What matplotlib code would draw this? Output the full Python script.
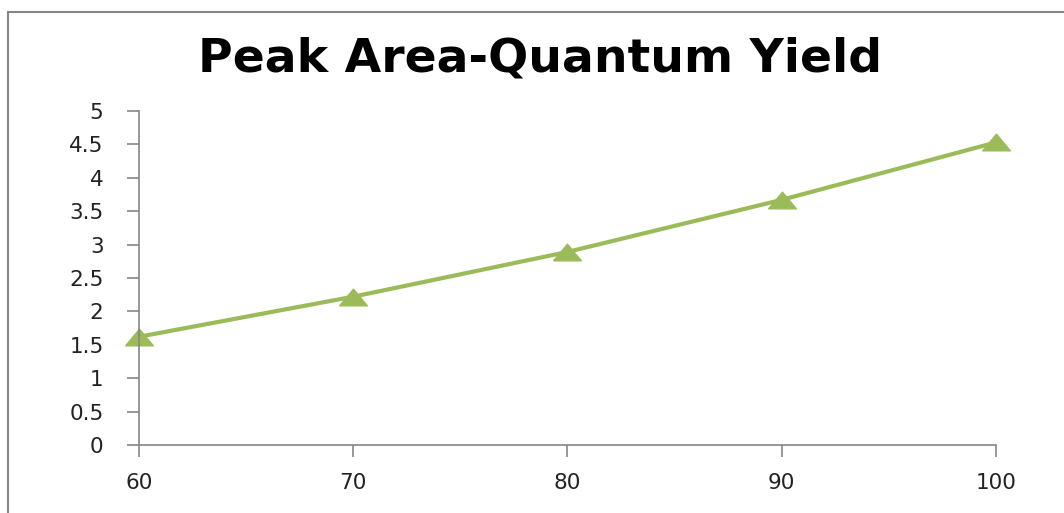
import matplotlib.pyplot as plt
from matplotlib.patches import Rectangle

x = [60, 70, 80, 90, 100]
y = [1.62, 2.22, 2.89, 3.67, 4.53]
xticks = [60, 70, 80, 90, 100]
yticks = [0, 0.5, 1, 1.5, 2, 2.5, 3, 3.5, 4, 4.5, 5]
ylabels = ['0', '0.5', '1', '1.5', '2', '2.5', '3', '3.5', '4', '4.5', '5']

fig = plt.figure(figsize=(10.64, 5.13), dpi=100)
ax = fig.add_axes([0.1306, 0.1326, 0.8054, 0.651])

# outer chart frame
fig.patches.append(Rectangle((8 / 1064, -0.1), 1.2, 1 - 12 / 513 + 0.1,
                             transform=fig.transFigure, fill=False,
                             edgecolor='#868686', linewidth=1.5))

# flat, wide triangle marker
tri = [(-1, -0.6), (1, -0.6), (0, 0.6), (-1, -0.6)]
ax.plot(x, y, color='#9BBB59', linewidth=3, marker=tri, markersize=20,
        clip_on=False)

ax.set_xlim(60, 100)
ax.set_ylim(0, 5)
ax.set_xticks(xticks)
ax.set_yticks(yticks)
ax.set_yticklabels(ylabels)

for s in ['top', 'right']:
    ax.spines[s].set_visible(False)
for s in ['left', 'bottom']:
    ax.spines[s].set_color('#868686')
    ax.spines[s].set_linewidth(1.2)

ax.tick_params(axis='both', direction='out', length=8.5, width=1.2,
               color='#868686', labelsize=15.5, labelcolor='#222222')
ax.tick_params(axis='x', pad=12)
ax.tick_params(axis='y', pad=17)

fig.text(0.508, 0.885, 'Peak Area-Quantum Yield', ha='center', va='center',
         fontsize=34, fontweight='bold', color='black')

plt.savefig('out.png', dpi=100)
